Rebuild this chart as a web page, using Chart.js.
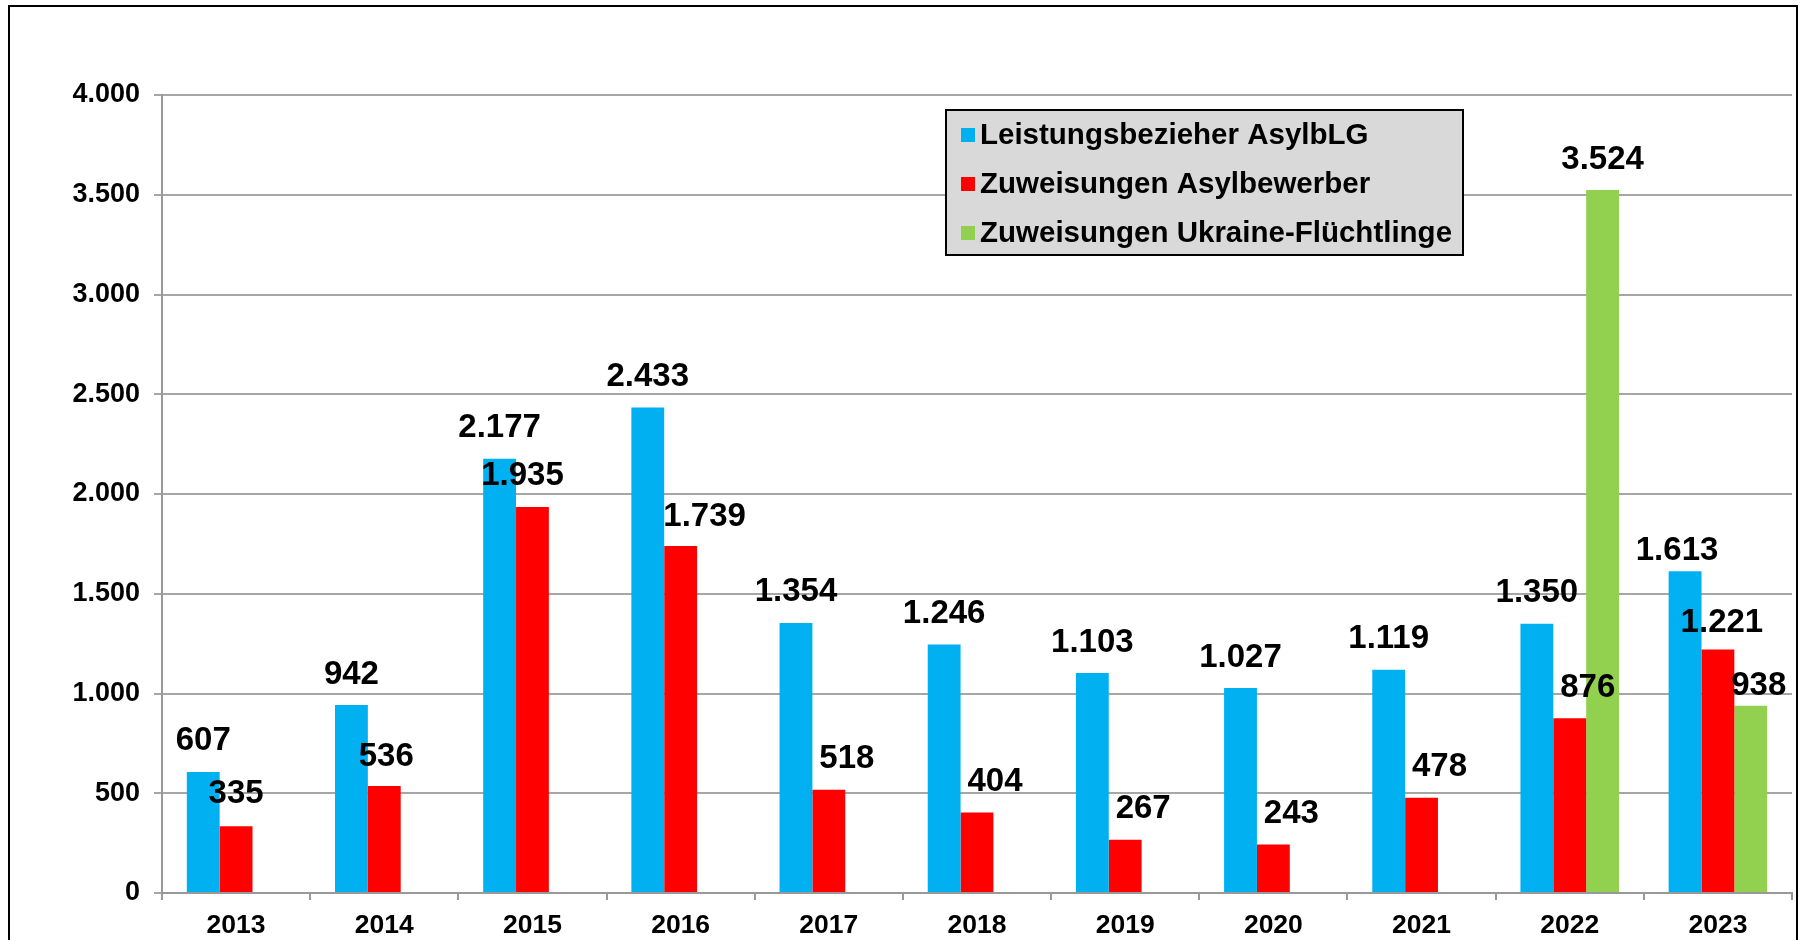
<!DOCTYPE html>
<html>
<head>
<meta charset="utf-8">
<script src="https://cdn.jsdelivr.net/npm/chart.js@4.4.1/dist/chart.umd.min.js"></script>
<style>
    html, body { margin: 0; padding: 0; background: #fff; overflow: hidden; }
    .frame { position: absolute; left: 8px; top: 5px; width: 1786px; height: 1000px; border: 2px solid #000; }
    .holder { position: absolute; left: 0; top: 0; width: 1803px; height: 940px; }
</style>
</head>
<body>
<div class="frame"></div>
<div class="holder"><canvas id="asylChart" width="1803" height="940"></canvas></div>

<script>
    // Daten
    var years = ['2013', '2014', '2015', '2016', '2017', '2018', '2019', '2020', '2021', '2022', '2023'];
    var leistungsbezieher = [607, 942, 2177, 2433, 1354, 1246, 1103, 1027, 1119, 1350, 1613];
    var zuweisungenAsyl = [335, 536, 1935, 1739, 518, 404, 267, 243, 478, 876, 1221];
    var zuweisungenUkraine = [null, null, null, null, null, null, null, null, null, 3524, 938];
    var seriesNames = ['Leistungsbezieher AsylbLG', 'Zuweisungen Asylbewerber', 'Zuweisungen Ukraine-Flüchtlinge'];
    var yTicks = [0, 500, 1000, 1500, 2000, 2500, 3000, 3500, 4000];

    var FONT = "'Liberation Sans', Arial, sans-serif";

    function fmt(v) {
        return String(v).replace(/\B(?=(\d{3})+(?!\d))/g, '.');
    }

    // Werte ueber den Balken
    var valueLabels = {
        id: 'valueLabels',
        afterDatasetsDraw: function (chart, args, opts) {
            var ctx = chart.ctx;
            ctx.save();
            ctx.font = 'bold 33px ' + FONT;
            ctx.fillStyle = '#000';
            ctx.textAlign = 'center';
            ctx.textBaseline = 'bottom';
            chart.data.datasets.forEach(function (ds, di) {
                var meta = chart.getDatasetMeta(di);
                meta.data.forEach(function (bar, i) {
                    var v = ds.data[i];
                    if (v === null || v === undefined) return;
                    var shift = (opts.shift[di + ':' + i]) || opts.base[di];
                    ctx.fillText(fmt(v), bar.x + shift[0], bar.y - shift[1]);
                });
            });
            ctx.restore();
        }
    };

    // Legende im Diagramm
    var boxLegend = {
        id: 'boxLegend',
        afterDraw: function (chart, args, opts) {
            var ctx = chart.ctx;
            ctx.save();
            ctx.fillStyle = '#d9d9d9';
            ctx.fillRect(opts.x, opts.y, opts.w, opts.h);
            ctx.strokeStyle = '#000';
            ctx.lineWidth = 2;
            ctx.strokeRect(opts.x, opts.y, opts.w, opts.h);
            ctx.font = 'bold 29.5px ' + FONT;
            ctx.textAlign = 'left';
            ctx.textBaseline = 'middle';
            chart.data.datasets.forEach(function (ds, di) {
                var cy = opts.y + 25 + di * 49;
                ctx.fillStyle = ds.backgroundColor;
                ctx.fillRect(opts.x + 15, cy - 7, 14, 14);
                ctx.fillStyle = '#000';
                ctx.fillText(ds.label, opts.x + 34, cy + 1);
            });
            ctx.restore();
        }
    };

    var ctx = document.getElementById('asylChart').getContext('2d');
    var asylChart = new Chart(ctx, {
        type: 'bar',
        data: {
            labels: years,
            datasets: [{
                label: seriesNames[0],
                data: leistungsbezieher,
                backgroundColor: '#00B0F0'
            }, {
                label: seriesNames[1],
                data: zuweisungenAsyl,
                backgroundColor: '#FF0000'
            }, {
                label: seriesNames[2],
                data: zuweisungenUkraine,
                backgroundColor: '#92D050'
            }]
        },
        plugins: [valueLabels, boxLegend],
        options: {
            responsive: false,
            animation: false,
            layout: {
                padding: { left: 0, right: 11, top: 95, bottom: 0 }
            },
            datasets: {
                bar: {
                    categoryPercentage: 0.665,
                    barPercentage: 1.0,
                    borderWidth: 0
                }
            },
            plugins: {
                legend: { display: false },
                tooltip: { enabled: false },
                valueLabels: {
                    base: [[0, 14], [18, 14], [0, 14]],
                    shift: {
                        '0:10': [-8, 4],
                        '1:0': [0, 16],
                        '1:1': [2, 13],
                        '1:2': [-10, 15],
                        '1:3': [24, 13],
                        '1:10': [4, 10],
                        '2:10': [8, 3]
                    }
                },
                boxLegend: { x: 946, y: 110, w: 517, h: 145 }
            },
            scales: {
                x: {
                    offset: true,
                    grid: {
                        display: true,
                        drawOnChartArea: false,
                        offset: true,
                        tickLength: 7,
                        color: '#999',
                        lineWidth: 2
                    },
                    border: { color: '#999', width: 2 },
                    ticks: {
                        color: '#000',
                        padding: 10,
                        font: { family: FONT, size: 26.5, weight: 'bold' }
                    },
                    afterFit: function (scale) { scale.height = 47; }
                },
                y: {
                    min: 0,
                    max: 4000,
                    afterBuildTicks: function (scale) {
                        scale.ticks = yTicks.map(function (v) { return { value: v }; });
                    },
                    grid: {
                        color: '#a6a6a6',
                        lineWidth: 2,
                        tickLength: 8
                    },
                    border: { color: '#999', width: 2 },
                    ticks: {
                        color: '#000',
                        padding: 14,
                        font: { family: FONT, size: 27, weight: 'bold' },
                        callback: function (v) { return fmt(v); }
                    },
                    afterFit: function (scale) { scale.width = 162; }
                }
            }
        }
    });
</script>
</body>
</html>
